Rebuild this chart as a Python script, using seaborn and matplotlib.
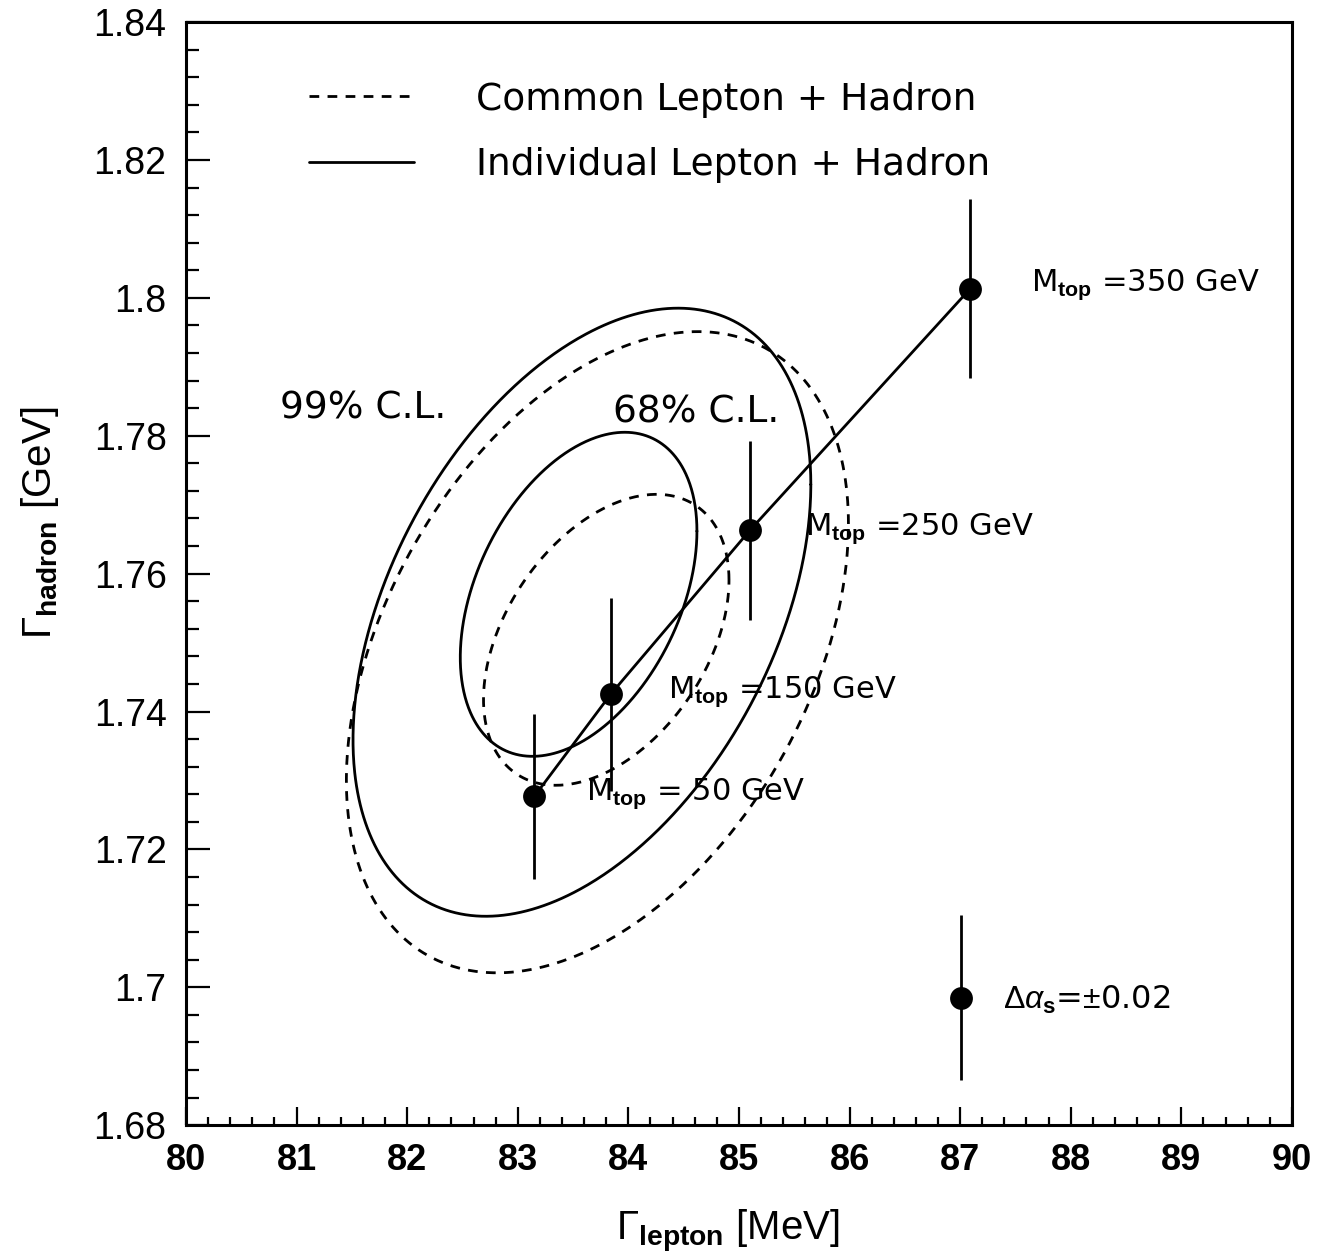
import numpy as np
import pandas as pd
import matplotlib
matplotlib.use("Agg")
import matplotlib.pyplot as plt
import seaborn as sns
from matplotlib.ticker import MultipleLocator
from matplotlib.lines import Line2D

# ---------------- data ----------------
mtop_labels = ["350", "250", "150", "50"]
gamma_lepton = [87.09, 85.10, 83.84, 83.15]          # MeV
gamma_hadron = [1.8013, 1.7663, 1.7425, 1.7277]      # GeV
hadron_err = [0.013, 0.013, 0.014, 0.012]

alpha_x = [87.01]
alpha_y = [1.6985]
alpha_err = [0.012]

# confidence-level contours: centre, half-extent in x and y, correlation
contour_names = ["Individual 68%", "Common 68%", "Individual 99%", "Common 99%"]
contour_kind = ["Individual", "Common", "Individual", "Common"]
contour_cx = [83.55, 83.80, 83.58, 83.72]
contour_cy = [1.7570, 1.7504, 1.7544, 1.7486]
contour_sx = [1.07, 1.11, 2.07, 2.27]
contour_sy = [0.0235, 0.0211, 0.0441, 0.0465]
contour_rho = [0.39, 0.41, 0.42, 0.40]

x_ticks = [80, 81, 82, 83, 84, 85, 86, 87, 88, 89, 90]
y_ticks = [1.68, 1.70, 1.72, 1.74, 1.76, 1.78, 1.80, 1.82, 1.84]
y_ticklabels = ["1.68", "1.7", "1.72", "1.74", "1.76", "1.78", "1.8", "1.82", "1.84"]

legend_labels = ["Common Lepton + Hadron", "Individual Lepton + Hadron"]

# ---------------- build tables ----------------
t = np.linspace(0, 2 * np.pi, 721)
rows = []
for name, kind, cx, cy, sx, sy, r in zip(contour_names, contour_kind, contour_cx,
                                         contour_cy, contour_sx, contour_sy, contour_rho):
    xs = cx + sx * np.cos(t)
    ys = cy + sy * (r * np.cos(t) + np.sqrt(1 - r * r) * np.sin(t))
    rows.append(pd.DataFrame({"x": xs, "y": ys, "contour": name, "kind": kind}))
contours = pd.concat(rows, ignore_index=True)

points = pd.DataFrame({"x": gamma_lepton, "y": gamma_hadron, "err": hadron_err,
                       "mtop": mtop_labels})

# ---------------- style ----------------
sns.set_theme(style="white")
plt.rcParams["font.family"] = ["DejaVu Sans"]
plt.rcParams["text.color"] = "black"
plt.rcParams["axes.labelcolor"] = "black"
plt.rcParams["xtick.color"] = "black"
plt.rcParams["ytick.color"] = "black"
plt.rcParams["mathtext.fontset"] = "custom"
plt.rcParams["mathtext.rm"] = "Liberation Sans"
plt.rcParams["mathtext.it"] = "Liberation Sans:italic"
plt.rcParams["mathtext.bf"] = "Liberation Sans:bold"

fig = plt.figure(figsize=(13.25, 12.6), dpi=100)
ax = fig.add_axes([0.1404, 0.107, 0.8346, 0.8755])

LW = 2.0
DASH = (3.5, 3.0)

for name, kind in zip(contour_names, contour_kind):
    d = contours[contours["contour"] == name]
    sns.lineplot(data=d, x="x", y="y", sort=False, estimator=None,
                 color="black", lw=LW, ax=ax, legend=False)
    if kind == "Common":
        ax.lines[-1].set_dashes(DASH)

# connecting line of the M_top points
sns.lineplot(data=points, x="x", y="y", sort=False, estimator=None,
             color="black", lw=LW, ax=ax, legend=False)
ax.errorbar(points["x"], points["y"], yerr=points["err"], fmt="none",
            ecolor="black", elinewidth=LW, capsize=0)
sns.scatterplot(data=points, x="x", y="y", color="black", s=270,
                linewidth=0, ax=ax, zorder=5, legend=False)

# alpha_s reference point
ax.errorbar(alpha_x, alpha_y, yerr=alpha_err, fmt="none", ecolor="black",
            elinewidth=LW, capsize=0)
sns.scatterplot(x=alpha_x, y=alpha_y, color="black", s=270, linewidth=0,
                ax=ax, zorder=5, legend=False)

# ---------------- axes ----------------
ax.set_xlim(80, 90)
ax.set_ylim(1.68, 1.84)
ax.set_xticks(x_ticks)
ax.set_xticklabels([str(v) for v in x_ticks], fontfamily="Liberation Sans",
                   fontsize=26, fontweight="bold")
ax.set_yticks(y_ticks)
ax.set_yticklabels(y_ticklabels, fontfamily="Liberation Sans", fontsize=27)
ax.xaxis.set_minor_locator(MultipleLocator(0.2))
ax.yaxis.set_minor_locator(MultipleLocator(0.004))
ax.tick_params(axis="x", which="major", direction="in", length=13, width=1.6,
               pad=13, bottom=True, top=False)
ax.tick_params(axis="x", which="minor", direction="in", length=6, width=1.6,
               bottom=True, top=False)
ax.tick_params(axis="y", which="major", direction="in", length=17, width=1.6,
               pad=14, left=True, right=False)
ax.tick_params(axis="y", which="minor", direction="in", length=9, width=1.6,
               left=True, right=False)
for sp in ax.spines.values():
    sp.set_visible(True)
    sp.set_color("black")
    sp.set_linewidth(2.2)

ax.set_xlabel(r"$\Gamma_{\mathbf{lepton}}$ [MeV]", fontfamily="Liberation Sans",
              fontsize=29, color="black")
ax.set_ylabel(r"$\Gamma_{\mathbf{hadron}}$ [GeV]", fontfamily="Liberation Sans",
              fontsize=29, color="black")
ax.xaxis.set_label_coords(0.49, -0.075)
ax.yaxis.set_label_coords(-0.113, 0.546)

# ---------------- legend ----------------
handles = [Line2D([], [], color="black", lw=LW, dashes=DASH),
           Line2D([], [], color="black", lw=LW)]
ax.legend(handles, legend_labels, loc="upper left", bbox_to_anchor=(0.111, 0.946),
          frameon=False, fontsize=27, handlelength=2.8, handletextpad=1.65,
          labelspacing=0.79, borderpad=0, borderaxespad=0)

# ---------------- annotations ----------------
ann_kw = dict(fontsize=22, color="black", va="center", ha="left")
ax.text(80.85, 1.7840, "99% C.L.", fontsize=27, va="center", ha="left")
ax.text(83.86, 1.7833, "68% C.L.", fontsize=27, va="center", ha="left")
label_pos = {"350": (87.64, 1.8019), "250": (85.60, 1.7665),
             "150": (84.36, 1.7428), "50": (83.62, 1.7280)}
for m in mtop_labels:
    px, py = label_pos[m]
    sep = " =" if m != "50" else " = "
    ax.text(px, py, r"M$_{\mathbf{top}}$" + sep + f"{m} GeV", **ann_kw)
ax.text(87.39, 1.6982, r"$\Delta\alpha_{\mathbf{s}}$=$\pm$0.02", fontsize=23,
        color="black", va="center", ha="left")

fig.savefig("out.png", dpi=100)
